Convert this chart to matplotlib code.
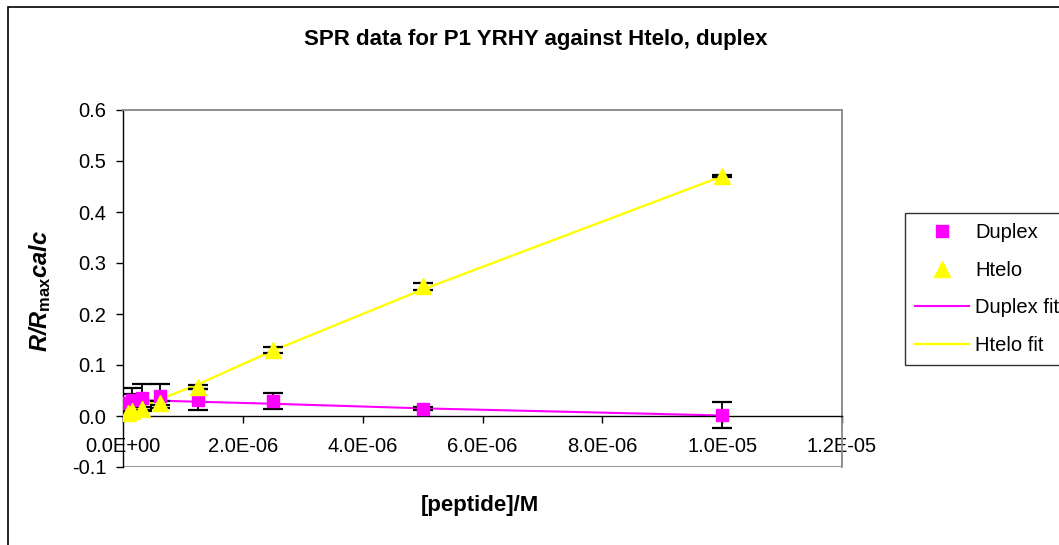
import matplotlib
matplotlib.use("Agg")
import matplotlib.pyplot as plt
from matplotlib.lines import Line2D
from matplotlib.patches import Rectangle
from matplotlib.ticker import FuncFormatter, MultipleLocator

plt.rcParams['font.family'] = ['Liberation Sans', 'DejaVu Sans']
plt.rcParams['mathtext.fontset'] = 'custom'
plt.rcParams['mathtext.rm'] = 'Liberation Sans'
plt.rcParams['mathtext.it'] = 'Liberation Sans:italic'
plt.rcParams['mathtext.bf'] = 'Liberation Sans:bold'
plt.rcParams['mathtext.bfit'] = 'Liberation Sans:italic:bold'

# ---- data ----
conc = [1e-5, 5e-6, 2.5e-6, 1.25e-6, 6.25e-7, 3.125e-7, 1.5625e-7, 7.8125e-8]
duplex = [0.002, 0.014, 0.030, 0.032, 0.039, 0.036, 0.031, 0.026]
duplex_err = [0.026, 0.003, 0.016, 0.020, 0.024, 0.027, 0.024, 0.018]
htelo = [0.470, 0.254, 0.130, 0.057, 0.026, 0.014, 0.009, 0.006]
htelo_err = [0.002, 0.006, 0.006, 0.004, 0.004, 0.003, 0.003, 0.002]
duplex_fit = [0.001, 0.015, 0.024, 0.028, 0.030, 0.031, 0.031, 0.031]
htelo_fit = [0.470, 0.248, 0.128, 0.062, 0.033, 0.019, 0.012, 0.008]

title = "SPR data for P1 YRHY against Htelo, duplex"
xlabel = "[peptide]/M"
ylabel = r"$\mathbfit{R/R}_{\mathbf{max}}\mathbfit{calc}$"

W, H = 1059, 545
fig = plt.figure(figsize=(W / 100, H / 100), dpi=100)
fig.patch.set_facecolor('white')

# outer chart border
fig.patches.append(Rectangle((8 / W, -0.05), 1.2, 1 - 7 / H + 0.05,
                             transform=fig.transFigure, fill=False,
                             edgecolor='black', linewidth=1.2))

ax = fig.add_axes([123 / W, 1 - 467 / H, (842 - 123) / W, (467 - 110) / H])
ax.set_xlim(0, 1.2e-5)
ax.set_ylim(-0.1, 0.6)

# grey plot-area frame
for s in ['top', 'right']:
    ax.spines[s].set_color('#8c8c8c')
    ax.spines[s].set_linewidth(1.3)
ax.add_patch(Rectangle((0, 0), 1, 1, transform=ax.transAxes, fill=False,
                       edgecolor='#8c8c8c', linewidth=1.3, zorder=0.5))
ax.spines['left'].set_color('black')
ax.spines['left'].set_linewidth(1.0)
ax.spines['bottom'].set_position(('data', 0))
ax.spines['bottom'].set_color('black')
ax.spines['bottom'].set_linewidth(1.0)

ax.xaxis.set_major_locator(MultipleLocator(2e-6))
ax.yaxis.set_major_locator(MultipleLocator(0.1))
ax.xaxis.set_major_formatter(FuncFormatter(
    lambda v, p: "0.0E+00" if abs(v) < 1e-12 else "%.1E" % v))
ax.yaxis.set_major_formatter(FuncFormatter(lambda v, p: "%.1f" % v))
ax.tick_params(axis='x', direction='out', length=5, width=1, labelsize=14.5, pad=10)
ax.tick_params(axis='y', direction='out', length=5, width=1, labelsize=14.5, pad=7)

ax.plot(conc, duplex_fit, color='#ff00ff', linewidth=1.5, zorder=2)
ax.plot(conc, htelo_fit, color='#ffff00', linewidth=1.7, zorder=2)

ax.errorbar(conc, duplex, yerr=duplex_err, fmt='none', ecolor='black',
            elinewidth=1.3, capsize=7, capthick=1.6, zorder=3)
ax.errorbar(conc, htelo, yerr=htelo_err, fmt='none', ecolor='black',
            elinewidth=1.3, capsize=7, capthick=1.6, zorder=3)
ax.plot(conc, duplex, linestyle='none', marker='s', markersize=9,
        color='#ff00ff', markeredgecolor='#ff00ff', zorder=4)
ax.plot(conc, htelo, linestyle='none', marker='^', markersize=11,
        color='#ffff00', markeredgecolor='#ffff00', zorder=4)

fig.text(536 / W, 1 - 40 / H, title, ha='center', va='center',
         fontsize=16, fontweight='bold')
fig.text(480 / W, 1 - 505 / H, xlabel, ha='center', va='center',
         fontsize=16, fontweight='bold')
fig.text(40 / W, 1 - 291 / H, ylabel, ha='center', va='center',
         fontsize=17, rotation=90)

handles = [
    Line2D([], [], linestyle='none', marker='s', markersize=9,
           color='#ff00ff', markeredgecolor='#ff00ff'),
    Line2D([], [], linestyle='none', marker='^', markersize=11,
           color='#ffff00', markeredgecolor='#ffff00'),
    Line2D([], [], color='#ff00ff', linewidth=1.5),
    Line2D([], [], color='#ffff00', linewidth=1.7),
]
labels = ["Duplex", "Htelo", "Duplex fit", "Htelo fit"]
leg = fig.legend(handles, labels, loc='upper left',
                 bbox_to_anchor=(905 / W, 1 - 213 / H),
                 frameon=True, fancybox=False, edgecolor='black',
                 fontsize=14.5, handlelength=2.7, handletextpad=0.3,
                 labelspacing=0.92, borderpad=0.5, borderaxespad=0)
leg.get_frame().set_linewidth(1.0)

fig.savefig("out.png", dpi=100, facecolor='white')
